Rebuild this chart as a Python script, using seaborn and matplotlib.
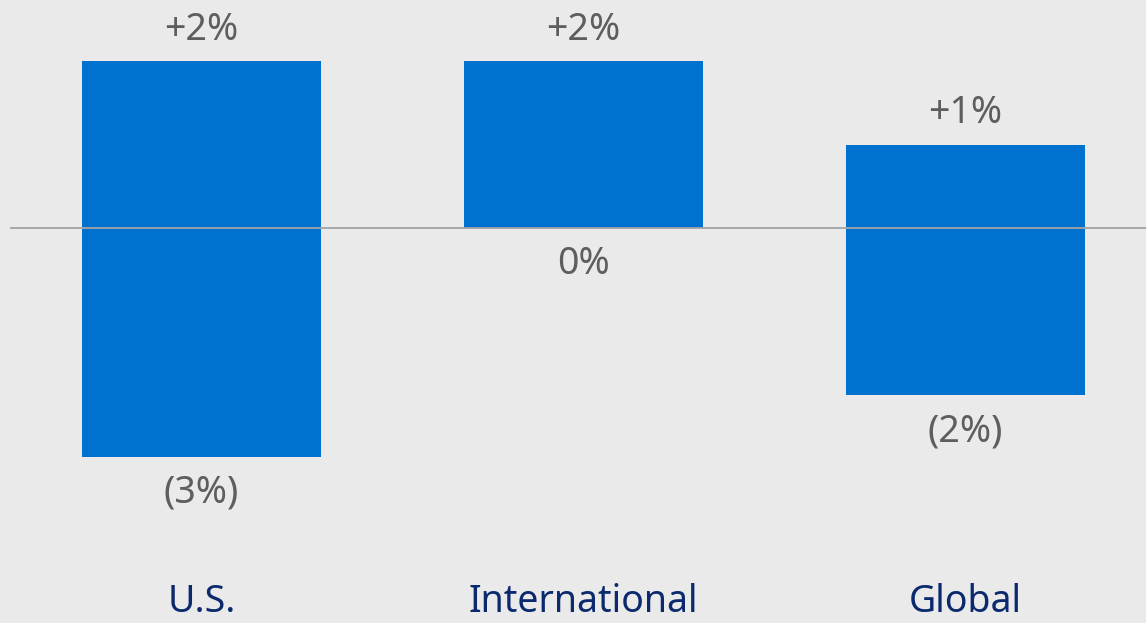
import matplotlib
matplotlib.use("Agg")
import matplotlib.pyplot as plt
import matplotlib.transforms as mtransforms
import seaborn as sns
import pandas as pd

# Percent change by region: upside and downside ranges
categories = ["U.S.", "International", "Global"]
upside = [2.0, 2.0, 1.0]
downside = [-2.74, 0.0, -2.0]

BG = "#EAEAEA"
BAR = "#0071CE"
VALUE_COLOR = "#5E5E5E"
CAT_COLOR = "#0B2A6E"
FONT = ["Noto Sans", "DejaVu Sans"]

sns.set_theme(style="white")
plt.rcParams["font.family"] = FONT

df = pd.DataFrame({"region": categories, "up": upside, "down": downside})

fig = plt.figure(figsize=(11.46, 6.23), dpi=100, facecolor=BG)
ax = fig.add_axes([0, 0, 1, 1])
ax.set_facecolor(BG)

sns.barplot(data=df, x="region", y="up", color=BAR, width=0.626,
            saturation=1, linewidth=0, ax=ax, zorder=2)
sns.barplot(data=df, x="region", y="down", color=BAR, width=0.626,
            saturation=1, linewidth=0, ax=ax, zorder=2)

ax.set_xlim(-0.5275, 2.4725)
ax.set_ylim(-4.731, 2.731)

# zero baseline
ax.hlines(0, -0.501, 2.4725, color="#A3A3A3", lw=1.3, zorder=3)

def fmt_up(v):
    return f"+{v:.0f}%"

def fmt_down(v):
    return "0%" if round(abs(v)) == 0 else f"({abs(v):.0f}%)"

for i, (u, d) in enumerate(zip(upside, downside)):
    ax.annotate(fmt_up(u), (i, u), xytext=(0, 22.5), textcoords="offset points",
                ha="center", va="center", fontsize=27, fontweight="light",
                color=VALUE_COLOR)
    ax.annotate(fmt_down(d), (i, d), xytext=(0, -26), textcoords="offset points",
                ha="center", va="center", fontsize=27, fontweight="light",
                color=VALUE_COLOR)

trans = mtransforms.blended_transform_factory(ax.transData, ax.transAxes)
for i, name in enumerate(categories):
    ax.text(i, 0.004, name, transform=trans, ha="center", va="bottom",
            fontsize=27, fontweight="light", color=CAT_COLOR)

ax.set_xlabel("")
ax.set_ylabel("")
ax.set_xticks([])
ax.set_yticks([])
for s in ax.spines.values():
    s.set_visible(False)

fig.savefig("out.png", dpi=100, facecolor=BG)
